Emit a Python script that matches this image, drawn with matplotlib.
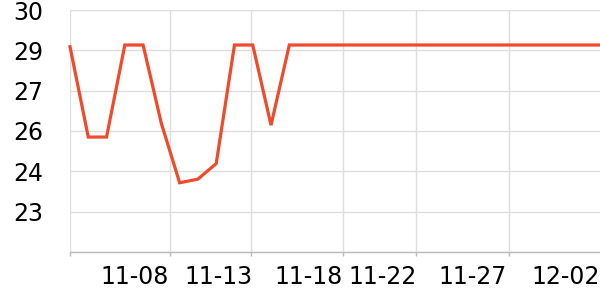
import matplotlib
matplotlib.use('Agg')
import matplotlib.pyplot as plt
import numpy as np

# Даты (категории) и значения
dates = ['11-04', '11-05', '11-06', '11-07', '11-08', '11-10', '11-11', '11-12',
         '11-13', '11-14', '11-15', '11-16', '11-17', '11-18', '11-19', '11-20',
         '11-21', '11-22', '11-23', '11-24', '11-25', '11-26', '11-27', '11-28',
         '11-29', '11-30', '12-01', '12-02', '12-03', '12-04']
values = [28.7, 25.5, 25.5, 28.76, 28.76, 25.98, 23.88, 24.01, 24.56, 28.76,
          28.76, 25.92] + [28.76] * 18

# подписи оси X (позиции в индексах категорий) и позиции сетки
label_dates = ['11-08', '11-13', '11-18', '11-22', '11-27', '12-02']
label_pos = [3.55, 8.1, 13.05, 17.1, 22.05, 27.1]
grid_pos = [0, 5.47, 9.9, 14.93, 18.93, 24.02]

y_top = 30
y_step = 10 / 7
y_ticks = [y_top - i * y_step for i in range(7)]

fig = plt.figure(figsize=(6, 3), dpi=100)
ax = fig.add_axes([70 / 600, 48 / 300, 530 / 600, 242 / 300])

x = np.arange(len(dates))
ax.plot(x, values, color='#ee4a2b', lw=2.3, solid_joinstyle='miter', clip_on=False, zorder=3)

ax.set_xlim(0, len(dates) - 1)
ax.set_ylim(y_ticks[-1], y_top)

# Ось Y
ax.set_yticks(y_ticks)
ax.set_yticklabels([f'{round(v)}' if i < 6 else '' for i, v in enumerate(y_ticks)])
ax.tick_params(axis='y', length=0, pad=19, labelsize=17)
ax.yaxis.grid(True, color='#dddddd', lw=1)

# Ось X: подписи, сетка и риски отдельно
ax.set_xticks(label_pos)
ax.set_xticklabels(label_dates)
ax.tick_params(axis='x', which='major', length=0, pad=9, labelsize=17)
ax.set_xticks(grid_pos, minor=True)
ax.tick_params(axis='x', which='minor', length=3, width=1, color='#bbbbbb')
ax.xaxis.grid(True, which='minor', color='#dddddd', lw=1)
ax.set_axisbelow(True)

for s in ['top', 'right', 'left']:
    ax.spines[s].set_visible(False)
ax.spines['bottom'].set_color('#bbbbbb')
ax.spines['bottom'].set_linewidth(1)

plt.savefig('out.png', dpi=100)
plt.close()
